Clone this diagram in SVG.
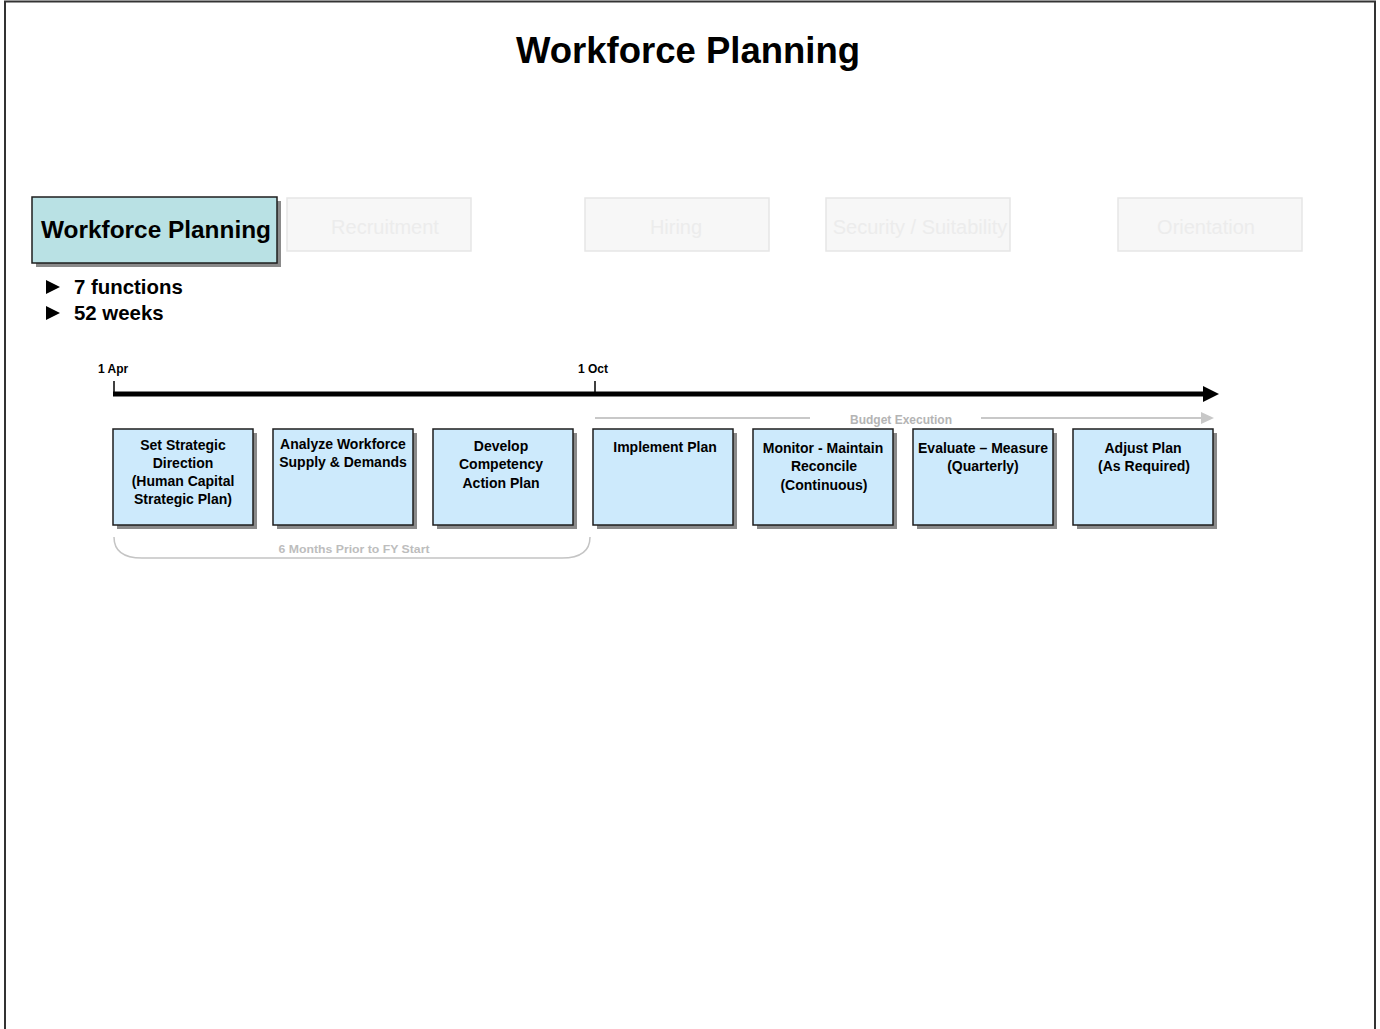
<svg xmlns="http://www.w3.org/2000/svg" width="1380" height="1029" viewBox="0 0 1380 1029">
<style>
text{font-family:"Liberation Sans",Arial,sans-serif}
.b{font-weight:bold}
.box{fill:#cdeafc;stroke:#1e1e1e;stroke-width:1.5}
.sh{fill:#8a8a8a}
.bt{font-size:14px;font-weight:bold;fill:#000;text-anchor:middle}
.fb{fill:#f7f7f7;stroke:#e6e6e6;stroke-width:1.5}
.ft{font-size:20px;fill:#ececec;text-anchor:middle}
</style>
<rect width="1380" height="1029" fill="#fff"/>
<path d="M5,1029 V1.5 H1375 V1029" fill="none" stroke="#333" stroke-width="2"/>
<text x="688" y="63" class="b" font-size="36.5" text-anchor="middle">Workforce Planning</text>

<g id="tab-workforce-planning">
<rect x="36" y="201" width="245" height="66" class="sh"/>
<rect x="32" y="197" width="245" height="66" fill="#b9e1e4" stroke="#1e1e1e" stroke-width="1.5"/>
<text x="156" y="238" class="b" font-size="24.4" text-anchor="middle">Workforce Planning</text>
</g>
<g id="tab-recruitment"><rect x="287" y="198" width="184" height="53" class="fb"/><text x="385" y="234" class="ft">Recruitment</text></g>
<g id="tab-hiring"><rect x="585" y="198" width="184" height="53" class="fb"/><text x="676" y="234" class="ft">Hiring</text></g>
<g id="tab-security"><rect x="826" y="198" width="184" height="53" class="fb"/><text x="920" y="234" class="ft">Security / Suitability</text></g>
<g id="tab-orientation"><rect x="1118" y="198" width="184" height="53" class="fb"/><text x="1206" y="234" class="ft">Orientation</text></g>

<g id="bullets">
<polygon points="46,280 60,287 46,294" fill="#000"/>
<text x="74" y="294" class="b" font-size="20.4">7 functions</text>
<polygon points="46,306 60,313 46,320" fill="#000"/>
<text x="74" y="320" class="b" font-size="20.4">52 weeks</text>
</g>

<g id="connectors">
<line x1="113" y1="394" x2="1205" y2="394" stroke="#000" stroke-width="5"/>
<polygon points="1203,386 1219,394 1203,402" fill="#000"/>
<line x1="114" y1="381" x2="114" y2="394" stroke="#000" stroke-width="1.5"/>
<line x1="595" y1="381" x2="595" y2="394" stroke="#000" stroke-width="1.5"/>
<line x1="595" y1="418" x2="810" y2="418" stroke="#c8c8c8" stroke-width="2"/>
<line x1="981" y1="418" x2="1202" y2="418" stroke="#c8c8c8" stroke-width="2"/>
<polygon points="1201,412 1214,418 1201,424" fill="#c8c8c8"/>
<path d="M114,537 Q114,558 142,558 L562,558 Q590,558 590,537" fill="none" stroke="#c4c4c4" stroke-width="1.5"/>
</g>
<text x="98" y="373" class="b" font-size="12">1 Apr</text>
<text x="578" y="373" class="b" font-size="12">1 Oct</text>
<text x="901" y="424" class="b" font-size="12" fill="#b4b4b4" text-anchor="middle">Budget Execution</text>
<text x="354" y="553" class="b" font-size="11.5" fill="#bdbdbd" text-anchor="middle" textLength="151" lengthAdjust="spacingAndGlyphs">6 Months Prior to FY Start</text>

<g id="step1"><rect x="117" y="433" width="140" height="96" class="sh"/><rect x="113" y="429" width="140" height="96" class="box"/>
<text class="bt"><tspan x="183" y="450">Set Strategic</tspan><tspan x="183" y="468">Direction</tspan><tspan x="183" y="486">(Human Capital</tspan><tspan x="183" y="504">Strategic Plan)</tspan></text></g>
<g id="step2"><rect x="277" y="433" width="140" height="96" class="sh"/><rect x="273" y="429" width="140" height="96" class="box"/>
<text class="bt"><tspan x="343" y="449">Analyze Workforce</tspan><tspan x="343" y="467">Supply &amp; Demands</tspan></text></g>
<g id="step3"><rect x="437" y="433" width="140" height="96" class="sh"/><rect x="433" y="429" width="140" height="96" class="box"/>
<text class="bt"><tspan x="501" y="451">Develop</tspan><tspan x="501" y="469">Competency</tspan><tspan x="501" y="488">Action Plan</tspan></text></g>
<g id="step4"><rect x="597" y="433" width="140" height="96" class="sh"/><rect x="593" y="429" width="140" height="96" class="box"/>
<text class="bt"><tspan x="665" y="452">Implement Plan</tspan></text></g>
<g id="step5"><rect x="757" y="433" width="140" height="96" class="sh"/><rect x="753" y="429" width="140" height="96" class="box"/>
<text class="bt"><tspan x="823" y="453">Monitor - Maintain</tspan><tspan x="824" y="471">Reconcile</tspan><tspan x="824" y="490">(Continuous)</tspan></text></g>
<g id="step6"><rect x="917" y="433" width="140" height="96" class="sh"/><rect x="913" y="429" width="140" height="96" class="box"/>
<text class="bt"><tspan x="983" y="453">Evaluate – Measure</tspan><tspan x="983" y="471">(Quarterly)</tspan></text></g>
<g id="step7"><rect x="1077" y="433" width="140" height="96" class="sh"/><rect x="1073" y="429" width="140" height="96" class="box"/>
<text class="bt"><tspan x="1143" y="453">Adjust Plan</tspan><tspan x="1144" y="471">(As Required)</tspan></text></g>
</svg>
